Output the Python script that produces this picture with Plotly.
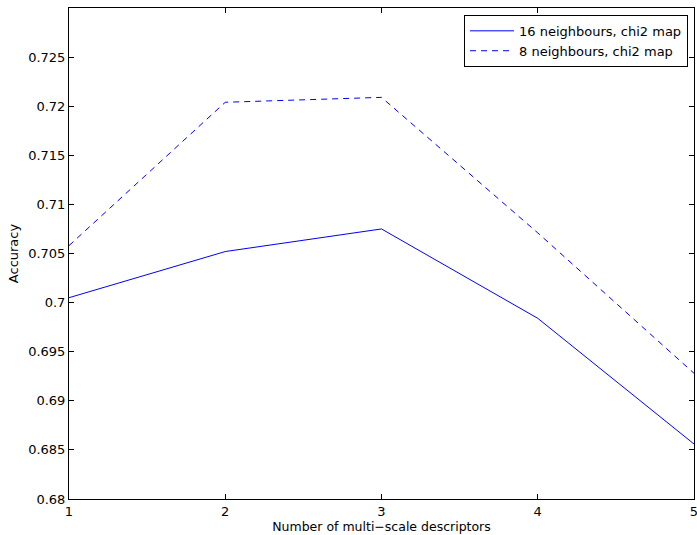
import plotly.graph_objects as go

x_vals = [1, 2, 3, 4, 5]
acc_16 = [0.7005, 0.7052, 0.7075, 0.6984, 0.6856]
acc_8 = [0.7058, 0.7204, 0.7209, 0.7071, 0.6928]
series_names = ["16 neighbours, chi2 map", "8 neighbours, chi2 map"]
y_tickvals = [0.68, 0.685, 0.69, 0.695, 0.70, 0.705, 0.71, 0.715, 0.72, 0.725]
y_ticktext = ["0.68", "0.685", "0.69", "0.695", "0.7", "0.705", "0.71", "0.715", "0.72", "0.725"]
x_tickvals = [1, 2, 3, 4, 5]
x_ticktext = ["1", "2", "3", "4", "5"]

fig = go.Figure()
fig.add_trace(go.Scatter(x=x_vals, y=acc_16, mode="lines", name=series_names[0],
                         line=dict(color="#0000ff", width=1)))
fig.add_trace(go.Scatter(x=x_vals, y=acc_8, mode="lines", name=series_names[1],
                         line=dict(color="#0000ff", width=1, dash="6px,5px")))

axis_common = dict(showgrid=False, zeroline=False, showline=True, linecolor="black",
                   linewidth=1, mirror="ticks", ticks="inside", ticklen=5,
                   tickcolor="black", tickwidth=1, automargin=False,
                   ticklabeloverflow="allow",
                   tickfont=dict(family="DejaVu Sans", size=13, color="black"))

fig.update_layout(
    width=697, height=535,
    margin=dict(l=69, r=3, t=8, b=36),
    paper_bgcolor="white", plot_bgcolor="white",
    font=dict(family="DejaVu Sans", color="black"),
    xaxis=dict(range=[1, 5], tickmode="array", tickvals=x_tickvals, ticktext=x_ticktext,
               title=dict(text="Number of multi\u2212scale descriptors", font=dict(size=12.5), standoff=0),
               **axis_common),
    yaxis=dict(range=[0.68, 0.73], tickmode="array", tickvals=y_tickvals, ticktext=y_ticktext,
               title=dict(text="Accuracy", font=dict(size=13), standoff=6),
               **axis_common),
    legend=dict(x=0.9904, y=0.986, xanchor="right", yanchor="top",
                bordercolor="black", borderwidth=1, bgcolor="white",
                font=dict(family="DejaVu Sans", size=13), tracegroupgap=0,
                itemwidth=44),
    showlegend=True,
)

fig.write_html("out.html", post_script="document.body.style.margin='0';",
               config={"displayModeBar": False})
